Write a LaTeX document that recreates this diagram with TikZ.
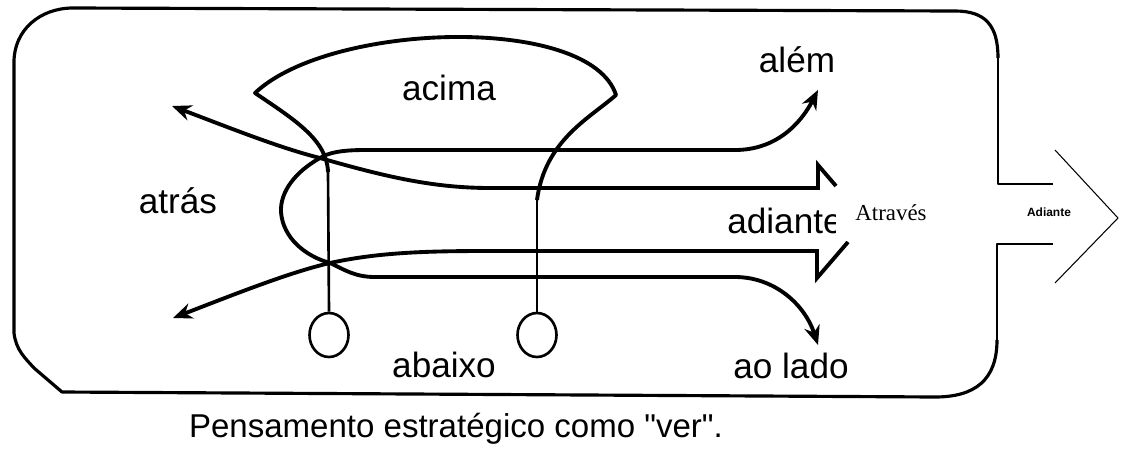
\documentclass[tikz,border=0pt]{standalone}
\usepackage{fontspec}
\setmainfont{Liberation Serif}
\setsansfont{Liberation Sans}[Ligatures=TeXOff]
\usepackage{tikz}
\usetikzlibrary{arrows.meta,shapes.geometric}

\begin{document}
\begin{tikzpicture}[x=0.02cm,y=-0.02cm,>={Stealth[length=11pt,width=9pt]},
                    line join=round]
  \tikzstyle{word}=[font=\sffamily\fontsize{20}{24}\selectfont,inner sep=0pt]
  \tikzstyle{heavy}=[line width=2.2pt]
  \tikzstyle{stem}=[line width=1.5pt]
  \tikzstyle{boxline}=[line width=1.8pt]
  \tikzstyle{fine}=[line width=0.6pt]
  \tikzstyle{eye}=[draw,ellipse,stem,inner sep=0pt,minimum width=0.78cm,minimum height=0.88cm]

  \useasboundingbox (0,0) rectangle (1123,457);

  % outer frame
  \draw[boxline] (998,58) .. controls (998,25) and (985,11) .. (955,11) -- (73,8)
        .. controls (40,8) and (14,30) .. (14,62) -- (14,333)
        .. controls (16,350) and (25,358) .. (34,368) -- (62,392) -- (935,397)
        .. controls (975,397) and (997,380) .. (997,340);
  \draw[fine] (1053,184) -- (998,184) -- (998,58);
  \draw[fine] (997,340) -- (997,244) -- (1053,244);
  \draw[fine] (1055,150) -- (1118,218) -- (1055,283);

  \coordinate (U) at (320,158);
  \coordinate (L) at (330,263);

  % acima and the two stems
  \node[eye] (LR) at (329,335) {};
  \node[eye] (RR) at (537,335) {};
  \draw[stem] (LR.north) -- (328,172);
  \draw[heavy] (328,172) .. controls (327,140) and (295,120) .. (255,93)
        .. controls (330,22) and (590,14) .. (616,95)
        .. controls (590,118) and (545,140) .. (537,200);
  \draw[stem] (537,198) -- (RR.north);

  % loop: alem and ao lado
  \draw[heavy,<->] (818,90) .. controls (800,125) and (775,150) .. (735,150) -- (365,150)
        .. controls (340,150) and (328,153) .. (U)
        .. controls (295,172) and (280,192) .. (281,212)
        .. controls (283,238) and (305,256) .. (L)
        .. controls (345,270) and (355,277) .. (375,277) -- (735,277)
        .. controls (775,277) and (805,305) .. (818,345);

  % adiante, with atras at both ends
  \draw[heavy,<-,line join=miter] (172,106) .. controls (230,128) and (280,148) .. (U)
        .. controls (380,175) and (430,188) .. (490,188) -- (818,188) -- (818,165) -- (836,186);
  \draw[heavy,<-,line join=miter] (173,318) .. controls (230,296) and (290,272) .. (L)
        .. controls (380,252) and (430,251) .. (490,251) -- (817,251) -- (817,278) -- (848,242);

  \node[word,anchor=base] (acima) at (449,100) {acima};
  \node[word,anchor=base] (alem) at (797,72) {além};
  \node[word,anchor=base] (atras) at (178,213) {atrás};
  \node[word,anchor=base west] (adiante) at (727,233) {adiante};
  \node[word,anchor=base] (abaixo) at (444,377) {abaixo};
  \node[word,anchor=base] (aolado) at (791,378) {ao lado};
  \node[word,anchor=base,font=\sffamily\fontsize{18.8}{22}\selectfont] (title) at (456,437)
        {Pensamento estratégico como "ver".};

  \node[fill=white,font=\fontsize{13}{15}\selectfont,minimum width=2.2cm,minimum height=1.1cm]
        (atraves) at (891,213) {Através};
  \node[font=\sffamily\bfseries\fontsize{6.8}{8}\selectfont] (adi) at (1049,212) {Adiante};
\end{tikzpicture}
\end{document}
